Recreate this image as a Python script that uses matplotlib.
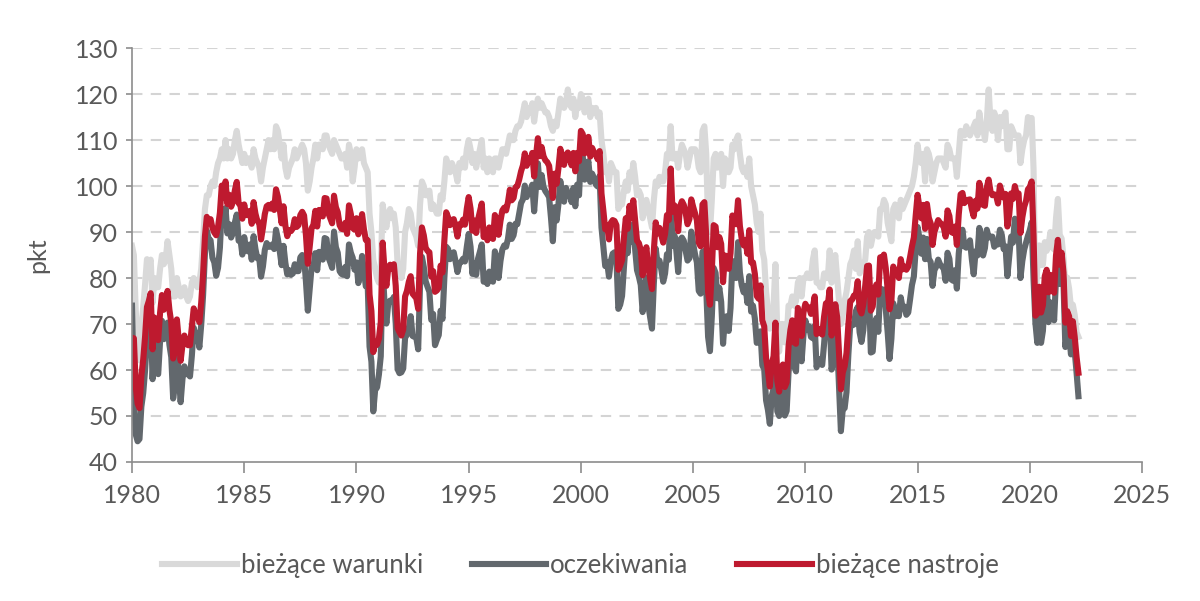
import numpy as np
import matplotlib
matplotlib.use("Agg")
import matplotlib.pyplot as plt

# miesięczne odczyty od I 1980 do III 2022
start_year = 1980

# bieżące warunki
warunki = [
    87, 85, 72.9, 65.5, 62.1, 69.1, 73.7, 78.7, 84.1, 82.8, 84.0, 74.6,
    80, 78, 78, 82, 85, 83, 84, 88, 85, 82, 76, 76,
    80, 78, 76, 77, 78, 76, 75, 76, 79, 80, 79, 78,
    79, 82, 88, 95, 98, 98, 100, 101, 100, 103, 105, 106,
    108, 106, 110, 106, 108, 106, 107, 110, 112, 109, 107, 105,
    107, 105, 106, 106, 104, 108, 106, 105, 104, 101, 104, 106,
    108, 110, 108, 110, 108, 113, 112, 109, 106, 109, 104, 102,
    104, 105, 106, 108, 106, 107, 108, 109, 108, 105, 99, 101,
    104, 106, 109, 106, 109, 109, 108, 111, 111, 109, 108, 107,
    110, 109, 108, 107, 106, 106, 107, 104, 109, 107, 101, 104,
    108, 106, 107, 108, 105, 104, 103, 94, 90, 84, 82, 80,
    79, 82, 96, 93, 91, 94, 95, 93, 94, 91, 83, 82,
    80, 82, 90, 92, 95, 94, 91, 90, 89, 87, 96, 101,
    100, 98, 98, 99, 95, 96, 95, 94, 94, 98, 97, 101,
    106, 104, 103, 105, 104, 103, 101, 105, 104, 106, 104, 108,
    110, 108, 105, 107, 104, 106, 108, 110, 104, 106, 103, 106,
    104, 103, 106, 106, 104, 106, 108, 108, 107, 109, 111, 110,
    110, 112, 113, 113, 114, 116, 118, 115, 117, 116, 118, 114,
    117, 119, 117, 118, 117, 116, 116, 115, 113, 112, 114, 113,
    116, 119, 118, 117, 118, 121, 118, 117, 119, 115, 118, 117,
    120, 119, 116, 118, 119, 115, 117, 116, 117, 115, 116, 110,
    107, 103, 104, 101, 105, 104, 103, 103, 95, 96, 96, 99,
    101, 99, 103, 101, 105, 102, 98, 99, 98, 93, 95, 97,
    95, 93, 91, 97, 101, 100, 102, 101, 101, 103, 107, 106,
    113, 106, 106, 107, 104, 107, 109, 108, 107, 104, 106, 108,
    108, 108, 107, 104, 103, 112, 113, 107, 92, 90, 97, 106,
    107, 104, 106, 107, 100, 106, 105, 103, 104, 109, 108, 110,
    111, 107, 104, 103, 104, 102, 106, 100, 98, 96, 92, 90,
    94, 86, 84, 77, 73, 69, 72, 74, 83, 68, 64, 70,
    70, 66, 67, 74, 74, 76, 74, 75, 79, 80, 76, 80,
    80, 81, 80, 80, 84, 86, 79, 79, 78, 78, 81, 80,
    80, 86, 79, 82, 85, 80, 75, 70, 72, 75, 77, 80,
    83, 84, 86, 82, 88, 81, 82, 83, 84, 89, 90, 87,
    89, 90, 90, 89, 95, 95, 97, 96, 92, 90, 88, 95,
    96, 95, 93, 97, 95, 96, 97, 98, 99, 100, 102, 105,
    109, 106, 105, 107, 101, 108, 107, 105, 101, 103, 105, 106,
    106, 106, 105, 104, 109, 108, 106, 106, 106, 102, 107, 112,
    111, 111, 113, 112, 111, 112, 113, 114, 111, 116, 113, 113,
    110, 114, 121, 114, 112, 116, 114, 110, 115, 113, 115, 116,
    108, 108, 113, 112, 111, 111, 111, 105, 108, 110, 111, 115,
    114.4, 114.8, 103.7, 74.3, 82.3, 87.1, 82.8, 82.9, 87.8, 85.9, 87.0, 90.0,
    86.7, 86.2, 93.0, 97.2, 89.4, 88.6, 84.5, 78.5, 80.1, 77.7, 73.6, 74.2,
    72.0, 68.2, 67.2,
]

# oczekiwania
oczekiwania = [
    74, 55, 46, 44.5, 45, 52, 55, 60, 67, 70, 72, 58,
    65.9, 59.8, 59.1, 66.2, 70.7, 66.7, 67.7, 70.3, 65.5, 62.8, 53.8, 56.8,
    65.2, 59.1, 53.0, 58.1, 60.8, 59.1, 59.2, 58.6, 63.1, 69.2, 67.7, 68.0,
    64.9, 69.8, 76.2, 85.3, 90.3, 88.5, 88.2, 84.4, 83.4, 80.5, 82.2, 86.6,
    95.0, 91.9, 95.2, 89.7, 91.7, 88.8, 89.9, 92.1, 93.8, 88.1, 88.4, 85.1,
    88.9, 86.4, 85.8, 87.3, 84.0, 89.1, 86.3, 84.3, 84.5, 80.3, 82.5, 86.1,
    87.6, 86.8, 86.8, 87.3, 86.3, 90.5, 88.5, 85.8, 82.8, 87.0, 83.3, 80.8,
    81.7, 80.7, 81.0, 83.0, 81.5, 81.5, 84.5, 85.0, 84.4, 79.2, 72.9, 77.7,
    82.3, 82.4, 85.4, 81.7, 85.7, 85.5, 84.0, 88.7, 88.5, 84.5, 83.4, 82.2,
    90.1, 86.7, 85.5, 81.5, 80.9, 80.7, 82.4, 80.4, 87.3, 85.5, 84.4, 81.8,
    83.4, 78.9, 81.2, 84.8, 81.4, 78.2, 78.7, 65.1, 61.8, 51.0, 55.7, 56.2,
    59.0, 63.0, 82.4, 74.6, 70.1, 74.5, 75.1, 74.9, 75.9, 70.1, 60.2, 59.3,
    59.5, 60.3, 67.0, 67.7, 69.1, 71.7, 67.4, 67.2, 67.0, 64.5, 78.4, 84.6,
    82.4, 79.3, 78.1, 77.0, 70.9, 72.2, 65.4, 66.6, 67.6, 72.9, 71.1, 80.0,
    86.8, 86.3, 84.1, 84.6, 85.6, 83.6, 81.3, 83.2, 83.5, 84.2, 83.6, 86.8,
    89.6, 86.8, 80.9, 83.2, 80.7, 84.2, 85.7, 87.3, 79.2, 80.1, 78.7, 81.4,
    79.9, 79.2, 85.8, 84.2, 80.0, 83.7, 86.2, 87.1, 86.8, 88.5, 91.6, 88.5,
    89.3, 91.8, 91.7, 94.0, 96.3, 97.1, 100.1, 97.6, 98.9, 98.9, 100.3, 94.5,
    99.9, 104.9, 99.8, 102.4, 99.8, 98.9, 98.3, 97.6, 93.1, 88.0, 95.4, 92.5,
    96.1, 101.1, 97.8, 96.6, 99.6, 98.5, 98.3, 96.5, 99.6, 95.6, 100.3, 98.0,
    106.9, 106.4, 101.4, 103.6, 105.4, 100.9, 102.7, 101.7, 100.3, 99.9, 102.2, 91.0,
    86.8, 82.6, 83.5, 80.3, 83.7, 85.3, 85.6, 84.1, 73.3, 74.2, 76.1, 82.3,
    87.9, 85.4, 91.0, 87.9, 91.7, 86.2, 81.7, 80.3, 78.5, 72.6, 77.3, 80.1,
    74.3, 71.5, 69.0, 78.9, 86.4, 83.1, 83.8, 81.8, 79.2, 81.0, 85.2, 84.0,
    97.9, 87.0, 89.3, 86.0, 81.3, 88.3, 88.8, 88.1, 86.0, 83.8, 84.3, 90.1,
    87.5, 85.2, 83.4, 77.2, 76.6, 85.7, 85.9, 77.6, 67.2, 64.1, 71.7, 82.2,
    81.1, 75.6, 77.9, 74.8, 65.7, 71.4, 71.7, 68.5, 73.5, 83.7, 81.9, 80.0,
    87.8, 81.2, 78.4, 76.9, 78.2, 74.6, 80.4, 72.7, 74.0, 71.2, 65.9, 66.2,
    68.4, 61.0, 60.2, 53.4, 51.3, 48.3, 54.3, 55.9, 62.1, 51.0, 50.0, 54.0,
    55.6, 50.1, 51.1, 59.4, 65.3, 67.5, 60.9, 59.7, 70.0, 64.6, 61.9, 67.7,
    70.8, 68.8, 69.5, 67.2, 66.9, 69.6, 60.6, 62.4, 61.9, 61.1, 65.6, 71.0,
    70.5, 72.0, 60.1, 62.0, 67.4, 66.0, 56.4, 46.7, 51.5, 51.7, 55.2, 63.4,
    69.9, 69.7, 69.9, 72.8, 73.7, 68.2, 66.1, 68.7, 74.6, 78.5, 78.0, 63.8,
    64.0, 69.6, 71.3, 68.3, 77.8, 77.1, 77.5, 73.2, 68.2, 62.4, 66.8, 74.5,
    71.7, 73.0, 71.7, 75.8, 73.5, 73.8, 72.0, 72.5, 75.4, 78.5, 80.3, 86.3,
    91.1, 88.6, 85.3, 88.8, 84.1, 88.5, 84.2, 83.5, 78.3, 81.7, 82.5, 84.0,
    83.0, 82.5, 82.0, 79.4, 85.5, 84.2, 79.7, 79.4, 81.7, 77.7, 85.3, 89.3,
    90.5, 86.9, 86.6, 87.4, 88.2, 84.1, 80.8, 85.8, 84.9, 90.9, 89.2, 84.9,
    86.5, 90.5, 88.8, 89.0, 89.0, 86.8, 87.6, 87.3, 90.5, 89.4, 86.3, 86.9,
    80.4, 84.7, 89.0, 87.7, 92.9, 90.0, 90.3, 80.0, 83.7, 86.2, 87.7, 89.2,
    90.4, 92.1, 79.7, 70.2, 65.9, 72.3, 65.9, 68.5, 75.6, 79.2, 70.4, 74.7,
    74.1, 70.8, 79.7, 82.6, 78.7, 83.5, 79.1, 65.0, 68.1, 67.8, 63.4, 68.3,
    64.1, 59.4, 54.3,
]

# bieżące nastroje
nastroje = [
    67.0, 66.9, 56.5, 52.7, 51.7, 58.7, 62.3, 67.3, 73.7, 75.0, 76.7, 64.5,
    71.4, 66.9, 66.5, 72.4, 76.3, 73.1, 74.1, 77.2, 73.1, 70.3, 62.5, 64.3,
    71.0, 66.5, 62.0, 65.5, 67.5, 65.7, 65.4, 65.4, 69.3, 73.4, 72.1, 71.9,
    70.4, 74.6, 80.8, 89.1, 93.3, 92.2, 92.8, 90.9, 89.9, 89.3, 91.1, 94.2,
    100.1, 97.4, 101.0, 96.1, 98.1, 95.5, 96.6, 99.1, 100.9, 96.3, 95.7, 92.9,
    96.0, 93.7, 93.7, 94.6, 91.8, 96.5, 94.0, 92.4, 92.1, 88.4, 90.9, 93.9,
    95.6, 95.9, 95.1, 96.2, 94.8, 99.3, 97.7, 94.9, 91.9, 95.6, 91.4, 89.1,
    90.4, 90.2, 90.8, 92.8, 91.1, 91.5, 93.7, 94.4, 93.6, 89.3, 83.1, 86.8,
    90.8, 91.6, 94.6, 91.2, 94.8, 94.7, 93.4, 97.4, 97.3, 94.1, 93.0, 91.9,
    97.9, 95.4, 94.3, 91.5, 90.7, 90.6, 92.0, 89.6, 95.8, 93.9, 90.9, 90.5,
    93.0, 89.5, 91.3, 93.9, 90.6, 88.3, 88.2, 76.4, 72.8, 63.9, 66.0, 65.5,
    66.8, 70.4, 87.7, 81.8, 78.3, 82.1, 82.9, 82.0, 83.0, 78.3, 69.1, 68.2,
    67.5, 68.8, 76.0, 77.2, 79.2, 80.4, 76.6, 76.1, 75.6, 73.3, 85.3, 91.0,
    89.3, 86.6, 85.9, 85.6, 80.3, 81.5, 77.0, 77.3, 77.9, 82.7, 81.2, 88.2,
    94.3, 93.2, 91.5, 92.6, 92.8, 91.2, 89.0, 91.7, 91.5, 92.7, 91.6, 95.1,
    97.6, 95.1, 90.3, 92.5, 89.8, 92.7, 94.4, 96.2, 88.9, 90.2, 88.2, 91.0,
    89.3, 88.5, 93.7, 92.7, 89.4, 92.4, 94.7, 95.3, 94.7, 96.5, 99.2, 96.9,
    97.4, 99.7, 100.0, 101.4, 103.2, 104.5, 107.1, 104.4, 106.0, 105.6, 107.2, 102.1,
    106.6, 110.4, 106.5, 108.5, 106.5, 105.6, 105.2, 104.4, 100.9, 97.4, 102.7, 100.5,
    103.9, 108.1, 105.7, 104.6, 106.8, 107.3, 106.0, 104.5, 107.2, 103.2, 107.2, 105.4,
    112.0, 111.3, 107.1, 109.2, 110.7, 106.4, 108.3, 107.3, 106.8, 105.8, 107.6, 98.4,
    94.7, 90.6, 91.5, 88.4, 92.0, 92.6, 92.4, 91.5, 81.8, 82.7, 83.9, 88.8,
    93.0, 90.7, 95.7, 93.0, 96.9, 92.4, 88.1, 87.6, 86.1, 80.6, 84.2, 86.7,
    82.4, 79.9, 77.6, 86.0, 92.1, 89.7, 90.9, 89.3, 87.7, 89.6, 93.7, 92.6,
    103.8, 94.4, 95.8, 94.2, 90.2, 95.6, 96.7, 95.9, 94.2, 91.7, 92.8, 97.1,
    95.5, 94.1, 92.6, 87.7, 86.9, 96.0, 96.5, 89.1, 76.9, 74.2, 81.6, 91.5,
    91.2, 86.7, 88.9, 87.4, 79.1, 84.9, 84.7, 82.0, 85.4, 93.6, 92.1, 91.7,
    96.9, 91.3, 88.4, 87.1, 88.3, 85.3, 90.4, 83.4, 83.4, 80.9, 76.1, 75.5,
    78.4, 70.8, 69.5, 62.6, 59.8, 56.4, 61.2, 63.0, 70.3, 57.6, 55.3, 60.1,
    61.2, 56.3, 57.3, 65.1, 68.7, 70.8, 66.0, 65.7, 73.5, 70.6, 67.4, 72.5,
    74.4, 73.6, 73.6, 72.2, 73.6, 76.0, 67.8, 68.9, 68.2, 67.7, 71.6, 74.5,
    74.2, 77.5, 67.5, 69.8, 74.3, 71.5, 63.7, 55.8, 59.5, 60.8, 63.7, 69.9,
    75.0, 75.3, 76.2, 76.4, 79.3, 73.2, 72.3, 74.3, 78.3, 82.6, 82.7, 72.9,
    73.8, 77.6, 78.6, 76.4, 84.5, 84.1, 85.1, 82.1, 77.5, 73.2, 75.1, 82.5,
    81.2, 81.6, 80.0, 84.1, 81.9, 82.5, 81.8, 82.5, 84.6, 86.9, 88.8, 93.6,
    98.1, 95.4, 93.0, 95.9, 90.7, 96.1, 93.1, 91.9, 87.2, 90.0, 91.3, 92.6,
    92.0, 91.7, 91.0, 89.0, 94.7, 93.5, 90.0, 89.8, 91.2, 87.2, 93.8, 98.2,
    98.5, 96.3, 96.9, 97.0, 97.1, 95.0, 93.4, 96.8, 95.1, 100.7, 98.5, 95.9,
    95.7, 99.7, 101.4, 98.8, 98.0, 98.2, 97.9, 96.2, 100.1, 98.6, 97.5, 98.3,
    91.2, 93.8, 98.4, 97.2, 100.0, 98.2, 98.4, 89.8, 93.2, 95.5, 96.8, 99.3,
    99.8, 101.0, 89.1, 71.8, 72.3, 78.1, 72.5, 74.1, 80.4, 81.8, 76.9, 80.7,
    79.0, 76.8, 84.9, 88.3, 82.9, 85.5, 81.2, 70.3, 72.8, 71.7, 67.4, 70.6,
    67.2, 62.8, 59.4,
]

x_ticks = [1980, 1985, 1990, 1995, 2000, 2005, 2010, 2015, 2020, 2025]
y_ticks = [40, 50, 60, 70, 80, 90, 100, 110, 120, 130]

plt.rcParams['font.family'] = ['Lato', 'DejaVu Sans']
txt = '#595959'

t = start_year + np.arange(len(nastroje)) / 12.0

fig = plt.figure(figsize=(12, 6.01), dpi=100)
ax = fig.add_axes([0.11, 0.2313, 0.8417, 0.6887])

lw = 4.4
ax.plot(t, warunki, color='#d9d9d9', lw=lw, solid_joinstyle='round', label='bieżące warunki')
ax.plot(t, oczekiwania, color='#62686d', lw=lw, solid_joinstyle='round', label='oczekiwania')
ax.plot(t, nastroje, color='#be1a2f', lw=lw, solid_joinstyle='round', label='bieżące nastroje')

ax.set_xlim(1980, 2025)
ax.set_ylim(40, 130)
ax.set_xticks(x_ticks)
ax.set_yticks(y_ticks)
for v in y_ticks[1:]:
    ax.axhline(v, color='#d4d4d4', lw=1.5, ls=(0, (5, 4)), zorder=0)

for s in ['top', 'right']:
    ax.spines[s].set_visible(False)
for s in ['left', 'bottom']:
    ax.spines[s].set_color('#8c8c8c')
    ax.spines[s].set_linewidth(1.2)
ax.tick_params(axis='x', direction='out', length=8, width=1.2, color='#8c8c8c',
               labelsize=18, labelcolor=txt, pad=8)
ax.tick_params(axis='y', direction='out', length=4, width=1.2, color='#8c8c8c',
               labelsize=18, labelcolor=txt, pad=6)
ax.set_ylabel('pkt', fontsize=18, color=txt, labelpad=18)

ax.legend(loc='center', bbox_to_anchor=(0.444, -0.249), ncol=3, frameon=False,
          fontsize=18.5, labelcolor=txt, handlelength=2.9, handletextpad=0.15,
          columnspacing=1.9)

fig.savefig('out.png', dpi=100)
